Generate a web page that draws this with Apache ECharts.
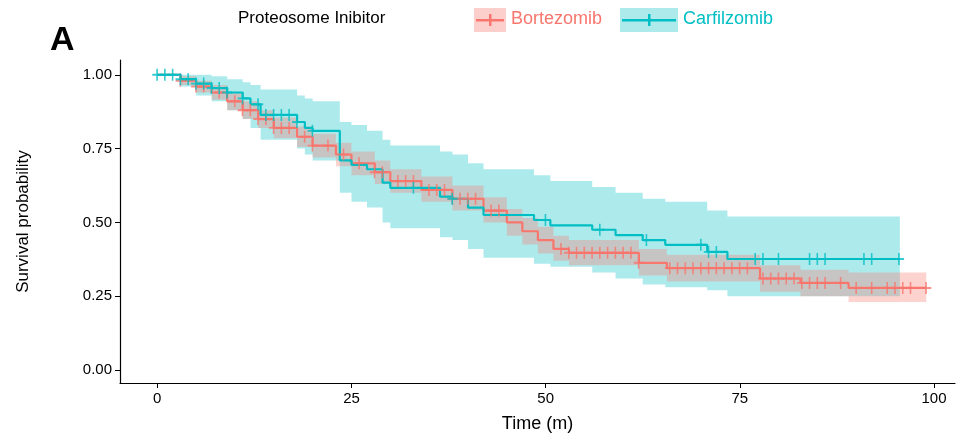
<!DOCTYPE html>
<html><head><meta charset="utf-8">
<script src="https://cdn.jsdelivr.net/npm/echarts@6/dist/echarts.min.js"></script>
<style>html,body{margin:0;padding:0;background:#fff}#c{width:976px;height:446px}</style>
</head><body><div id="c"></div>
<script>
// Bortezomib KM curve
const bortTime = [0,3,5,7,9,11,13,15,18,20,23,25,28,30,34,38,42,45,47,49,51,53,62,65.6,77.6,82.8,89,99];
const bortSurv = [1.0,0.98,0.96,0.94,0.91,0.88,0.85,0.82,0.79,0.76,0.73,0.70,0.67,0.64,0.61,0.58,0.54,0.50,0.47,0.44,0.41,0.397,0.363,0.345,0.31,0.295,0.278,0.278];
const bortUpper = [1.0,0.995,0.98,0.965,0.94,0.91,0.88,0.855,0.825,0.80,0.77,0.74,0.71,0.68,0.655,0.625,0.585,0.545,0.515,0.485,0.455,0.44,0.41,0.39,0.355,0.34,0.33,0.33];
const bortLower = [1.0,0.965,0.94,0.915,0.88,0.85,0.82,0.785,0.755,0.72,0.69,0.66,0.63,0.60,0.57,0.54,0.50,0.455,0.425,0.395,0.37,0.355,0.32,0.30,0.265,0.25,0.23,0.23];
const bortCensor = [3,5,6,8,10,11,12,13,14,15,16,17,19,20,22,24,26,28,29,31,32,33,35,36,37,38,39,40,41,43,44,52,53,54,55,56,57,58,59,60,61,62,66,67,68,69,70,71,72,73,74,75,76,78,79,80,81,82,83,84,85,86,88,90,92,94,95,96,97,99];
// Carfilzomib KM curve
const carfTime = [0,3,5,7,9,11,12,13.3,18,19,20,23.5,25,27,29,30,36.4,38,40,42,48.5,50.6,56,59,62.5,65.4,70.8,73.4,95.6];
const carfSurv = [1.0,0.985,0.97,0.955,0.94,0.92,0.90,0.864,0.84,0.82,0.81,0.71,0.695,0.68,0.635,0.617,0.587,0.58,0.55,0.525,0.508,0.49,0.475,0.457,0.44,0.424,0.40,0.376,0.376];
const carfUpper = [1.0,1.0,1.0,0.995,0.985,0.975,0.965,0.95,0.93,0.92,0.91,0.84,0.83,0.81,0.78,0.76,0.74,0.73,0.70,0.68,0.66,0.64,0.62,0.60,0.58,0.57,0.54,0.52,0.52];
const carfLower = [1.0,0.96,0.93,0.91,0.88,0.85,0.82,0.78,0.75,0.73,0.71,0.60,0.57,0.55,0.50,0.48,0.45,0.44,0.41,0.38,0.36,0.35,0.33,0.31,0.29,0.28,0.27,0.25,0.25];
const carfCensor = [0,1,2,3,4,5,6,7,8,9,11,13,14,15,16,17,18,20,33,38,50,57,63,70,71,72,77,78,80,84,85,86,91,92,95.5];
const xTicks = [0,25,50,75,100];
const yTicks = [0,0.25,0.5,0.75,1.0];

const RED='#F8766D', TEAL='#00BFC4';
const plus='path://M4,0h1.6v4.2h4.4v1.6h-4.4v4.2h-1.6v-4.2h-4v-1.6h4z';
function pts(t,v){return t.map((x,i)=>[x,v[i]]);}
function at(t,v,x){let y=v[0];for(let i=0;i<t.length;i++){if(t[i]<=x)y=v[i];}return y;}
function band(t,lo,hi,col){
  return {type:'custom',silent:true,z:1,data:[0],clip:false,
    renderItem:(p,api)=>{
      const up=[],dn=[];
      for(let i=0;i<t.length;i++){
        const x1=t[i], x2=(i<t.length-1)?t[i+1]:t[i];
        up.push(api.coord([x1,hi[i]]),api.coord([x2,hi[i]]));
        dn.push(api.coord([x1,lo[i]]),api.coord([x2,lo[i]]));
      }
      return {type:'polygon',shape:{points:up.concat(dn.reverse())},style:{fill:col}};
    }};
}
const chart=echarts.init(document.getElementById('c'));
chart.setOption({
  animation:false,
  grid:{left:120,right:21,top:60,bottom:63},
  graphic:[
    {type:'text',left:50,top:24,style:{text:'A',fontSize:34,fontWeight:'bold',fontFamily:'Liberation Sans',fill:'#000'}},
    {type:'text',left:238,top:10,style:{text:'Proteosome Inibitor',fontSize:17,fontFamily:'Liberation Sans',fill:'#000'}},
    {type:'rect',left:474,top:8,shape:{width:32,height:24},style:{fill:'rgba(248,118,109,0.35)'}},
    {type:'rect',left:476,top:19,shape:{width:28,height:2.5},style:{fill:RED}},
    {type:'rect',left:489,top:14,shape:{width:2.5,height:12},style:{fill:RED}},
    {type:'text',left:511,top:10,style:{text:'Bortezomib',fontSize:18,fontFamily:'Liberation Sans',fill:RED}},
    {type:'rect',left:620,top:8,shape:{width:58,height:24},style:{fill:'rgba(0,191,196,0.32)'}},
    {type:'rect',left:622,top:19,shape:{width:54,height:2.5},style:{fill:TEAL}},
    {type:'rect',left:648,top:14,shape:{width:2.5,height:12},style:{fill:TEAL}},
    {type:'text',left:683,top:10,style:{text:'Carfilzomib',fontSize:18,fontFamily:'Liberation Sans',fill:TEAL}}
  ],
  xAxis:{type:'value',min:-4.8,max:102.7,name:'Time (m)',nameLocation:'middle',nameGap:32,
    nameTextStyle:{fontSize:18,color:'#000',fontFamily:'Liberation Sans'},
    axisLine:{onZero:false,lineStyle:{color:'#000',width:1.2}},axisTick:{customValues:xTicks,length:5,lineStyle:{color:'#000'}},
    axisLabel:{customValues:xTicks,color:'#000',fontSize:15,fontFamily:'Liberation Sans'},splitLine:{show:false}},
  yAxis:{type:'value',min:-0.044,max:1.05,name:'Survival probability',nameLocation:'middle',nameGap:88,
    nameTextStyle:{fontSize:17,color:'#000',fontFamily:'Liberation Sans'},
    axisLine:{show:true,onZero:false,lineStyle:{color:'#000',width:1.2}},axisTick:{show:true,customValues:yTicks,length:5,lineStyle:{color:'#000'}},
    axisLabel:{customValues:yTicks,color:'#000',fontSize:15,fontFamily:'Liberation Sans',formatter:v=>v.toFixed(2)},splitLine:{show:false}},
  series:[
    band(carfTime,carfLower,carfUpper,'rgba(0,191,196,0.32)'),
    band(bortTime,bortLower,bortUpper,'rgba(248,118,109,0.32)'),
    {type:'line',step:'end',data:pts(bortTime,bortSurv),symbol:'none',lineStyle:{color:RED,width:2.2},z:3},
    {type:'line',step:'end',data:pts(carfTime,carfSurv),symbol:'none',lineStyle:{color:TEAL,width:2.2},z:4},
    {type:'scatter',data:bortCensor.map(x=>[x,at(bortTime,bortSurv,x)]),symbol:plus,symbolSize:[10,12],itemStyle:{color:RED},z:5},
    {type:'scatter',data:carfCensor.map(x=>[x,at(carfTime,carfSurv,x)]),symbol:plus,symbolSize:[10,12],itemStyle:{color:TEAL},z:6}
  ]
});
</script></body></html>
